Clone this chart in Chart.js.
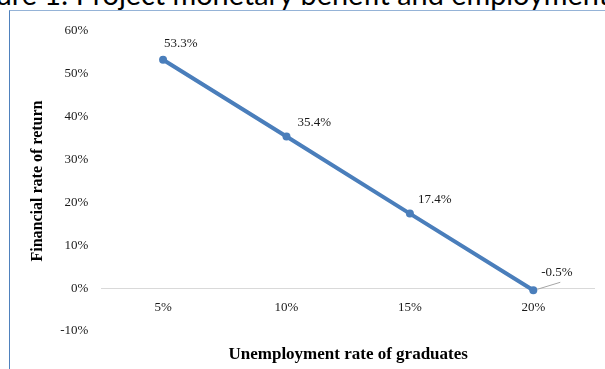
<!DOCTYPE html>
<html>
<head>
<meta charset="utf-8">
<script src="https://cdn.jsdelivr.net/npm/chart.js@4.4.0/dist/chart.umd.min.js"></script>
<style>
  body { margin: 0; background: #fff; }
  #wrap { position: relative; width: 605px; height: 369px; overflow: hidden; }
  #caption { position: absolute; right: -4px; top: -17px; font-family: Lato, "Open Sans", sans-serif; font-size: 26px; line-height: 1; white-space: nowrap; color: #000; }
  #frame { position: absolute; left: 9px; top: 10px; width: 700px; height: 400px; border-left: 1px solid #4f81bd; border-top: 1px solid #95b3d7; }
  canvas { position: absolute; left: 0; top: 0; }
</style>
</head>
<body>
<div id="wrap">
  <div id="caption">Figure 1: Project monetary benefit and employment</div>
  <div id="frame"></div>
  <canvas id="myChart" width="605" height="369"></canvas>
</div>
<script>
const unemploymentRates = ['5%', '10%', '15%', '20%'];
const rateOfReturn = [53.3, 35.4, 17.4, -0.5];
const yTicks = [-10, 0, 10, 20, 30, 40, 50, 60];

// where each value label sits relative to its point
const labelOffsets = [[1, -16], [11, -14], [8, -14], [8, -18]];
const leaderIndex = 3;

const fitCaption = () => {
  const cap = document.getElementById('caption');
  const c = document.createElement('canvas').getContext('2d');
  c.font = '26px Lato';
  const w = c.measureText('ure 1: Project monetary benefit and employment').width;
  const size = 26 * 614 / w;
  cap.style.fontSize = size + 'px';
  cap.style.top = (6 - size * 0.887) + 'px';
};

const pointLabels = {
  id: 'pointLabels',
  afterDatasetsDraw(chart) {
    const ctx = chart.ctx;
    const meta = chart.getDatasetMeta(0);
    ctx.save();
    ctx.font = '13px "Liberation Serif"';
    ctx.fillStyle = '#1a1a1a';
    ctx.textAlign = 'left';
    ctx.textBaseline = 'middle';
    meta.data.forEach((pt, i) => {
      const [dx, dy] = labelOffsets[i];
      if (i == leaderIndex) {
        ctx.strokeStyle = '#a6a6a6';
        ctx.lineWidth = 1;
        ctx.beginPath();
        ctx.moveTo(pt.x + 4, pt.y - 1);
        ctx.lineTo(pt.x + 27, pt.y - 8);
        ctx.stroke();
      }
      ctx.fillText(rateOfReturn[i].toFixed(1) + '%', pt.x + dx, pt.y + dy);
    });
    ctx.restore();
  }
};

const creatingChart = () => {
  const ctx = document.getElementById('myChart').getContext('2d');
  new Chart(ctx, {
    type: 'line',
    data: {
      labels: unemploymentRates,
      datasets: [{
        data: rateOfReturn,
        borderColor: '#4a7ebb',
        backgroundColor: '#4a7ebb',
        borderWidth: 4,
        pointRadius: 4,
        pointBorderWidth: 0,
        tension: 0
      }]
    },
    options: {
      responsive: false,
      animation: false,
      layout: { padding: { left: 15, right: 10, top: 31, bottom: 38 } },
      plugins: { legend: { display: false }, tooltip: { enabled: false } },
      scales: {
        x: {
          position: { y: 0 },
          offset: true,
          grid: { display: false, drawTicks: false },
          border: { display: false },
          ticks: { padding: 12, color: '#1a1a1a', font: { family: 'Liberation Serif', size: 13 } },
          title: {
            display: true,
            text: 'Unemployment rate of graduates',
            color: '#000',
            font: { family: 'Liberation Serif', size: 17, weight: 'bold' },
            padding: { top: 17, bottom: 0 }
          }
        },
        y: {
          min: -10,
          max: 60,
          afterBuildTicks: (axis) => { axis.ticks = yTicks.map(v => ({ value: v })); },
          grid: {
            drawTicks: false,
            color: (c) => (c.tick && c.tick.value === 0 ? '#d9d9d9' : 'rgba(0,0,0,0)')
          },
          border: { display: false },
          ticks: {
            padding: 13,
            color: '#1a1a1a',
            font: { family: 'Liberation Serif', size: 13 },
            callback: (v) => v + '%'
          },
          title: {
            display: true,
            text: 'Financial rate of return',
            color: '#000',
            font: { family: 'Liberation Serif', size: 16, weight: 'bold' },
            padding: { top: 13, bottom: 0 }
          }
        }
      }
    },
    plugins: [pointLabels]
  });
};

fitCaption();
creatingChart();
</script>
</body>
</html>
